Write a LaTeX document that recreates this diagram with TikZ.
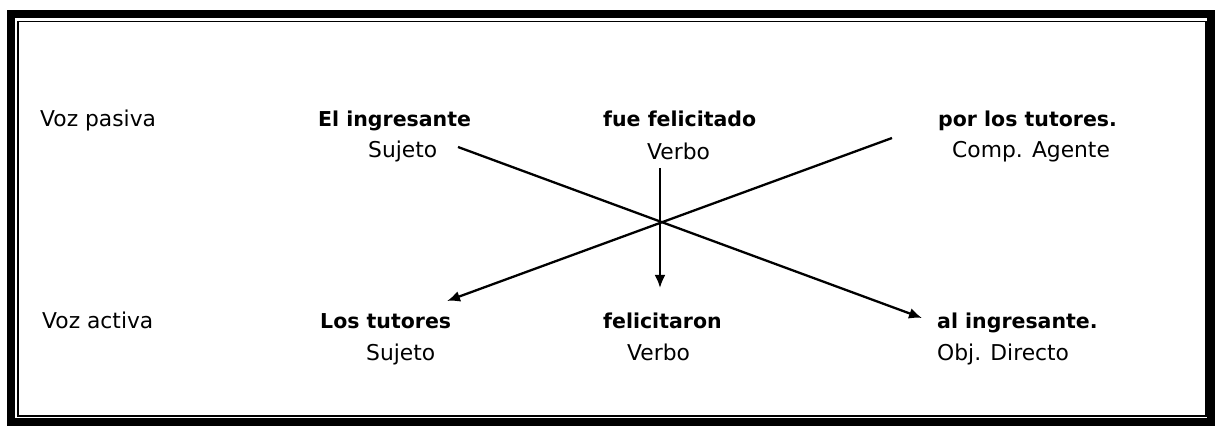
\documentclass[tikz,border=0pt]{standalone}
\usepackage{fontspec}
\setmainfont{DejaVu Sans}
\usepackage{tikz}
\usetikzlibrary{arrows.meta}

\begin{document}
\begin{tikzpicture}[x=1pt, y=-1pt,
    voz/.style={anchor=base west, inner sep=0pt, font=\fontsize{21.8}{26}\selectfont},
    palabra/.style={anchor=base west, inner sep=0pt, font=\fontsize{20.5}{26}\selectfont\bfseries},
    funcion/.style={anchor=base west, inner sep=0pt, font=\fontsize{21.8}{26}\selectfont},
    flecha/.style={line width=2.3pt, -{Latex[length=13pt, width=11pt]}}]
  \useasboundingbox (0,0) rectangle (1215,427);

  % Double frame
  \draw[line width=8pt] (11,14) rectangle (1210.5,421.5);
  \draw[line width=1.5pt] (18,21.5) rectangle (1206,416);

  % Passive voice row
  \node[voz] (vozpas) at (40,127) {Voz pasiva};
  \node[palabra] (elIng) at (318,127) {El ingresante};
  \node[palabra] (fueFel) at (603,127) {fue felicitado};
  \node[palabra] (porTut) at (938,127) {por los tutores.};
  \node[funcion] (sujA) at (368,158) {Sujeto};
  \node[funcion] (verbA) at (647,160) {Verbo};
  \node[funcion] (compAg) at (952,158) {Comp. Agente};

  % Active voice row
  \node[voz] (vozact) at (42,329) {Voz activa};
  \node[palabra] (losTut) at (320,329) {Los tutores};
  \node[palabra] (felic) at (603,329) {felicitaron};
  \node[palabra] (alIng) at (937,329) {al ingresante.};
  \node[funcion] (sujB) at (366,361) {Sujeto};
  \node[funcion] (verbB) at (627,361) {Verbo};
  \node[funcion] (objDir) at (937,361) {Obj. Directo};

  % Ends of the crossing arrows
  \coordinate (sujIni) at (458,147);
  \coordinate (sujFin) at (922,318);
  \coordinate (agIni) at (892,138);
  \coordinate (agFin) at (447,301);
  \coordinate (verbIni) at (660,168);
  \coordinate (verbFin) at (660,288);

  \draw[flecha] (sujIni) -- (sujFin);
  \draw[flecha] (agIni) -- (agFin);
  \draw[flecha] (verbIni) -- (verbFin);
\end{tikzpicture}
\end{document}
